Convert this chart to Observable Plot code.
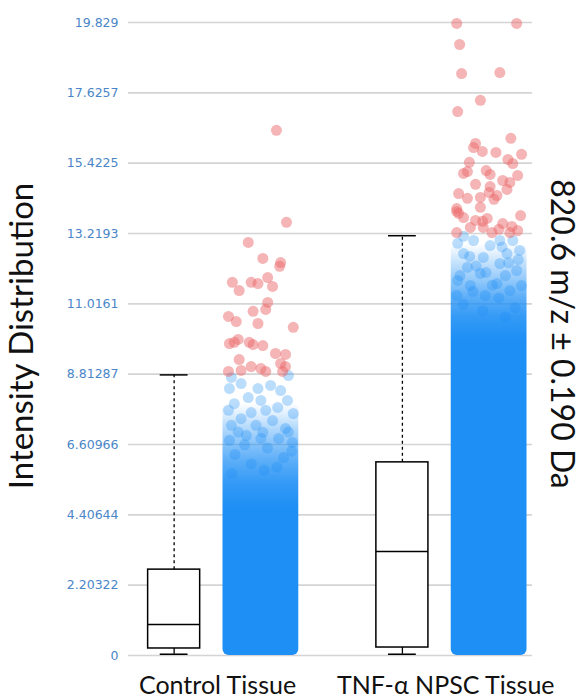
<!DOCTYPE html>
<html>
<head>
<meta charset="utf-8">
<script src="https://cdn.jsdelivr.net/npm/d3@7"></script>
<script src="https://cdn.jsdelivr.net/npm/@observablehq/plot@0.6"></script>
<style>
  html, body { margin: 0; padding: 0; background: #fff; }
  #chart svg { display: block; }
</style>
</head>
<body>
<div id="chart"></div>
<script>
// ---------- data ----------
const groups = ["Control Tissue", "TNF-α NPSC Tissue"];
const yLabel = "Intensity Distribution";
const rightLabel = "820.6 m/z ± 0.190 Da";
const tickValues = [0, 2.20322, 4.40644, 6.60966, 8.81287, 11.0161, 13.2193, 15.4225, 17.6257, 19.829];
const tickLabels = ["0", "2.20322", "4.40644", "6.60966", "8.81287", "11.0161", "13.2193", "15.4225", "17.6257", "19.829"];

// box plot statistics
const whiskerLow = [0.04, 0.04];
const boxQ1 = [0.22, 0.25];
const boxMedian = [0.97, 3.26];
const boxQ3 = [2.69, 6.05];
const whiskerHigh = [8.79, 13.15];

// density of the dense part of each point cloud: [value, density]
const controlDensity = [[0, 1], [4.6, 1], [5.4, 0.9], [6.1, 0.72], [6.7, 0.5], [7.2, 0.3], [7.6, 0.12], [7.9, 0]];
const tnfDensity = [[0, 1], [9.9, 1], [10.6, 0.9], [11.2, 0.72], [11.7, 0.5], [12.2, 0.3], [12.6, 0.12], [12.9, 0]];

// sparse (individually visible) points within whiskers: value, jitter
const controlSparseY = [8.71, 8.77, 8.52, 8.36, 8.46, 8.36, 8.30, 8.08, 7.99, 7.99, 7.89, 7.77, 7.68, 7.61, 7.68, 7.58, 7.42, 7.36, 7.21, 7.21, 7.11, 6.99, 6.89, 6.80, 6.74, 6.67,
  6.3, 6.5, 6.2, 6.0, 5.9, 6.6, 5.7, 6.8, 7.0, 7.0, 6.4, 5.8];
const controlSparseJ = [-0.91, 0.85, -0.61, -0.97, 0.30, -0.09, 0.61, -0.39, 0.0, 0.82, -0.82, 0.52, -1.0, -0.30, 0.15, 1.0, -0.61, 0.36, -0.91, -0.15, 0.76, 0.06, -0.45, 0.55, -0.97, 0.97,
  -0.8, 0.2, 0.7, -0.3, 0.5, -0.5, -0.9, 0.0, 0.85, -0.7, 0.95, 0.1];
const tnfSparseY = [12.91, 13.0, 13.0, 12.69, 12.59, 12.47, 12.59, 12.16, 12.28, 11.75, 11.97, 12.06, 11.65, 11.43, 12.84, 11.59, 11.59, 11.28, 11.28, 13.0, 13.13, 12.4, 12.2, 11.9,
  11.0, 11.2, 10.9, 10.8, 11.4, 11.6, 10.6, 11.9, 12.3, 12.0, 12.5, 12.8];
const tnfSparseJ = [-0.97, -0.48, 0.73, 0.94, -0.79, -0.18, 0.55, -0.67, 0.33, -0.97, -0.27, 0.85, 0.24, 0.64, 0.03, -0.58, 1.0, -1.0, -0.12, 0.33, -0.79, 0.9, -0.4, 0.5,
  -0.8, 0.3, 0.8, -0.2, -0.5, 0.1, 0.5, -0.9, 0.6, -0.1, -0.6, 0.4];

// outliers (above upper whisker): value, jitter
const controlOutY = [16.45, 13.57, 12.94, 12.44, 12.31, 12.19, 11.69, 11.43, 11.69, 11.65, 11.84, 11.56, 11.06, 10.84, 10.78, 10.62, 10.46, 10.40, 10.28, 9.77, 9.90, 9.81, 9.81, 9.74, 9.71, 9.46, 9.43, 9.27, 9.15, 9.05, 8.90, 8.93, 9.05, 8.99, 8.90, 8.90];
const controlOutJ = [0.48, 0.79, -0.39, 0.06, 0.61, 0.58, -0.88, -0.67, -0.30, -0.09, 0.21, 0.36, 0.21, 0.15, -0.24, -1.0, -0.76, -0.09, 1.0, -0.97, -0.70, -0.82, -0.36, -0.24, 0.06, 0.45, 0.76, -0.67, 0.61, 0.76, -1.0, -0.61, -0.30, 0.0, 0.15, 0.67];
const tnfOutY = [19.80, 19.80, 19.14, 18.23, 18.26, 17.39, 17.04, 16.04, 15.91, 15.79, 15.76, 16.20, 15.70, 15.54, 15.41, 15.45, 15.16, 15.10, 15.19, 15.07, 15.04, 14.88, 14.82, 14.76, 14.69, 14.60, 14.47, 14.32, 14.35, 14.29, 14.41, 14.50, 13.91, 13.85, 13.72, 13.63, 13.69, 13.53, 13.44, 13.78, 14.04, 14.00, 13.25, 13.41, 13.25, 13.31, 13.25, 13.41, 13.35, 13.60];
const tnfOutJ = [-1.0, 0.85, -0.91, -0.85, 0.33, -0.27, -0.97, -0.42, -0.48, -0.21, 0.21, 0.67, 1.0, 0.58, 0.73, -0.61, -0.67, -0.79, -0.09, 0.03, 0.88, 0.42, 0.64, -0.42, 0.03, 0.55, -0.94, -0.67, -0.27, 0.15, 0.24, 0.0, -1.0, -0.94, -0.79, -0.42, -0.06, 0.42, 0.70, 0.97, -0.27, -1.0, -1.0, -0.58, 0.09, 0.88, 0.64, -0.18, 0.3, -0.2];

// ---------- layout constants ----------
const boxOffset = -0.19, cloudOffset = 0.19;
const boxHalf = 0.114, capHalf = 0.061, cloudHalf = 0.166, jitterAmp = 0.142;
const blue = "#1e8ff5", red = "#ec6a6c";

// ---------- build tables ----------
const boxes = groups.map((g, i) => ({g, i, lo: whiskerLow[i], q1: boxQ1[i], med: boxMedian[i], q3: boxQ3[i], hi: whiskerHigh[i]}));
const densities = [controlDensity, tnfDensity];
const clouds = densities.map((dens, i) => ({i, top: dens[dens.length - 1][0]}));
const sparse = [
  ...controlSparseY.map((y, k) => ({i: 0, y, j: controlSparseJ[k]})),
  ...tnfSparseY.map((y, k) => ({i: 1, y, j: tnfSparseJ[k]}))
];
const outliers = [
  ...controlOutY.map((y, k) => ({i: 0, y, j: controlOutJ[k]})),
  ...tnfOutY.map((y, k) => ({i: 1, y, j: tnfOutJ[k]}))
];

const cloudMark = (c) => Plot.rect([c], {
  x1: d => d.i + cloudOffset - cloudHalf, x2: d => d.i + cloudOffset + cloudHalf,
  y1: () => 0, y2: "top", fill: `url(#cloudGrad${c.i})`, rx: 6
});

const chart = Plot.plot({
  width: 583,
  height: 700,
  marginTop: 22,
  marginBottom: 45,
  marginLeft: 128,
  marginRight: 51,
  style: {fontFamily: "Lato", background: "#fff"},
  x: {domain: [-0.39, 1.38], axis: null},
  y: {domain: [0, 19.829], axis: null},
  marks: [
    Plot.gridY(tickValues, {stroke: "#d4d4d4", strokeOpacity: 1, strokeWidth: 1.6}),
    Plot.axisY(tickValues, {
      tickSize: 0, tickPadding: 10, tickFormat: (d, k) => tickLabels[k],
      color: "#4a86c8", fontSize: 12.5, fontFamily: "DejaVu Sans", label: null
    }),
    Plot.axisX([0, 1], {
      tickSize: 0, tickPadding: 21, tickFormat: d => groups[d],
      fontSize: 25, fontFamily: "Lato", color: "#111", label: null
    }),
    Plot.text([yLabel], {frameAnchor: "left", textAnchor: "middle", dx: -106, dy: -3, rotate: -90, text: d => d, fontSize: 33, fontFamily: "Lato", fill: "#111"}),
    Plot.text([rightLabel], {frameAnchor: "right", textAnchor: "middle", dx: 29, dy: -5, rotate: 90, text: d => d, fontSize: 32, fontFamily: "Lato", fill: "#111"}),
    // dense clouds
    ...clouds.map(cloudMark),
    Plot.dot(sparse, {x: d => d.i + cloudOffset + d.j * jitterAmp, y: "y", r: 5.5, fill: blue, fillOpacity: 0.3, stroke: "none"}),
    Plot.dot(outliers, {x: d => d.i + cloudOffset + d.j * jitterAmp, y: "y", r: 5.5, fill: red, fillOpacity: 0.5, stroke: "none"}),
    // whiskers
    Plot.ruleX(boxes, {x: d => d.i + boxOffset, y1: "q3", y2: "hi", stroke: "#000", strokeWidth: 1.3, strokeDasharray: "3,3"}),
    Plot.ruleX(boxes, {x: d => d.i + boxOffset, y1: "lo", y2: "q1", stroke: "#000", strokeWidth: 1.3}),
    Plot.ruleY(boxes, {y: "hi", x1: d => d.i + boxOffset - capHalf, x2: d => d.i + boxOffset + capHalf, stroke: "#000", strokeWidth: 1.5}),
    Plot.ruleY(boxes, {y: "lo", x1: d => d.i + boxOffset - capHalf, x2: d => d.i + boxOffset + capHalf, stroke: "#000", strokeWidth: 1.5}),
    // boxes
    Plot.rect(boxes, {
      x1: d => d.i + boxOffset - boxHalf, x2: d => d.i + boxOffset + boxHalf,
      y1: "q1", y2: "q3", fill: "#fff", stroke: "#000", strokeWidth: 1.5
    }),
    Plot.ruleY(boxes, {y: "med", x1: d => d.i + boxOffset - boxHalf, x2: d => d.i + boxOffset + boxHalf, stroke: "#000", strokeWidth: 1.5})
  ]
});

// vertical gradients describing each cloud's density
const defs = d3.select(chart).insert("defs", ":first-child");
clouds.forEach(c => {
  const grad = defs.append("linearGradient")
    .attr("id", `cloudGrad${c.i}`)
    .attr("x1", 0).attr("y1", 1).attr("x2", 0).attr("y2", 0);
  densities[c.i].forEach(([v, o]) => {
    grad.append("stop")
      .attr("offset", v / c.top)
      .attr("stop-color", blue)
      .attr("stop-opacity", o);
  });
});

document.getElementById("chart").appendChild(chart);
</script>
</body>
</html>
